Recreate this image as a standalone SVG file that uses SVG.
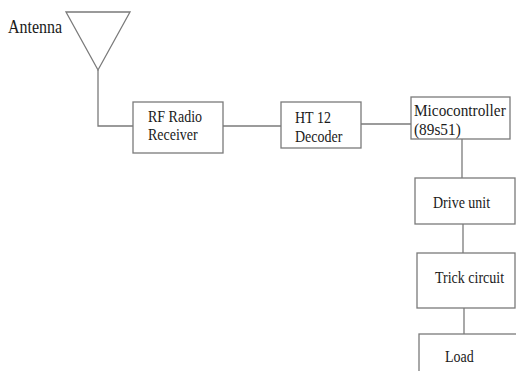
<svg xmlns="http://www.w3.org/2000/svg" width="516" height="371" viewBox="0 0 516 371">
<style>
.box{fill:#fff;stroke:#7a7a7a;stroke-width:1.3}
.ln{fill:none;stroke:#7a7a7a;stroke-width:1.3}
text{font-family:"Liberation Serif","Times New Roman",serif;fill:#1a1a1a}
.t{font-size:14px}
.b{font-size:16px}
.m{font-size:15.3px}
</style>
<rect width="516" height="371" fill="#fff"/>
<g id="connectors">
<polyline class="ln" points="98,70 98,126 133,126"/>
<line class="ln" x1="223" y1="126" x2="281" y2="126"/>
<line class="ln" x1="361" y1="124" x2="411" y2="124"/>
<line class="ln" x1="462" y1="139" x2="462" y2="178"/>
<line class="ln" x1="463" y1="224" x2="463" y2="253"/>
<line class="ln" x1="464" y1="308" x2="464" y2="334"/>
</g>
<g id="antenna">
<polygon class="ln" points="66,12 130,12 98,70"/>
<text class="b" transform="translate(8,33) scale(1,1.15)">Antenna</text>
</g>
<g id="rf">
<rect class="box" x="133" y="102" width="90" height="51"/>
<text class="t" transform="translate(148,122) scale(1,1.2)">RF Radio</text>
<text class="t" transform="translate(148,140) scale(1,1.2)">Receiver</text>
</g>
<g id="ht12">
<rect class="box" x="281" y="102" width="80" height="46"/>
<text class="t" transform="translate(295,123) scale(1,1.2)">HT 12</text>
<text class="t" transform="translate(295,142) scale(1,1.2)">Decoder</text>
</g>
<g id="micro">
<rect class="box" x="411" y="97" width="99" height="42"/>
<text class="m" transform="translate(414,116) scale(1,1.1)">Micocontroller</text>
<text class="m" transform="translate(414,135) scale(1,1.1)">(89s51)</text>
</g>
<g id="drive">
<rect class="box" x="415" y="178" width="100" height="46"/>
<text class="t" transform="translate(433,208) scale(1,1.2)">Drive unit</text>
</g>
<g id="trick">
<rect class="box" x="417" y="253" width="98" height="55"/>
<text class="t" transform="translate(435,283) scale(1,1.2)">Trick circuit</text>
</g>
<g id="load">
<rect class="box" x="419" y="334" width="100" height="50"/>
<text class="t" transform="translate(445,362) scale(1,1.2)">Load</text>
</g>
</svg>
